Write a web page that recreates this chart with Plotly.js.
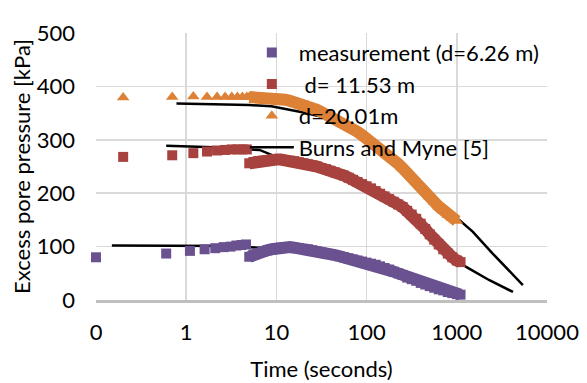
<!DOCTYPE html>
<html>
<head>
<meta charset="utf-8">
<script src="https://cdn.plot.ly/plotly-3.0.1.min.js"></script>
<style>html,body{margin:0;padding:0;background:#fff;}#chart{width:587px;height:383px;}</style>
</head>
<body>
<div id="chart"></div>
<script>
// ---- data (time in seconds, excess pore pressure in kPa) ----
const purpleEarlyT = [0.1, 0.6, 1.1, 1.6, 2.1, 2.6, 3.1, 3.6, 4.1, 4.6];
const purpleEarlyV = [80, 87, 92, 95, 97, 99, 100, 102, 103, 104];
const redEarlyT = [0.2, 0.7, 1.2, 1.7, 2.2, 2.7, 3.2, 3.7, 4.2, 4.7];
const redEarlyV = [268, 271, 275, 278, 280, 281, 282, 282, 282, 282];
const orangeEarlyT = [0.2, 0.7, 1.2, 1.7, 2.2, 2.7, 3.2, 3.7, 4.2, 4.7];
const orangeEarlyV = [379, 380, 381, 380, 380, 380, 380, 380, 380, 380];

const laterT = [5, 5.6, 6.3, 7.1, 7.9, 8.9, 10, 11.2, 12.6, 14.1, 15.8, 17.8, 20, 22.4, 25.1, 28.2,
  31.6, 35.5, 39.8, 44.7, 50.1, 56.2, 63.1, 70.8, 79.4, 89.1, 100, 112, 126, 141, 158, 178,
  200, 224, 251, 282, 316, 355, 398, 447, 501, 562, 631, 708, 794, 891, 1000, 1100];
const purpleLaterV = [81, 85, 88, 91, 93, 95, 97, 98, 99, 99, 98, 97, 96, 95, 93, 91,
  89, 87, 86, 84, 82, 80, 78, 76, 74, 72, 70, 68, 66, 63, 60, 57,
  53, 50, 47, 42, 39, 36, 32, 29, 26, 23, 20, 18, 15, 13, 11, 10];
const redLaterV = [256, 258, 260, 261, 262, 263, 263, 263, 262, 261, 260, 258, 256, 254, 252, 250,
  247, 245, 242, 239, 236, 233, 229, 225, 221, 217, 213, 209, 204, 199, 194, 189,
  184, 179, 174, 167, 160, 152, 143, 133, 123, 113, 104, 95, 87, 80, 74, 71];
const orangeLaterV = [380, 380, 379, 379, 378, 378, 377, 376, 375, 373, 371, 369, 367, 364, 360, 356,
  352, 348, 344, 340, 336, 331, 326, 321, 315, 309, 303, 297, 290, 283, 276, 269,
  262, 255, 247, 239, 230, 221, 212, 203, 193, 184, 175, 167, 159, 153, 148, null];

const burns1T = [0.15, 1, 3, 5, 10, 20, 50, 100, 200, 500, 1000];
const burns1V = [102, 102, 101, 99, 96, 93, 80, 68, 51, 24, 11];
const burns2T = [0.6, 1, 2, 5, 6.5, 10, 20, 50, 100, 200, 500, 1000, 1270, 2300, 4200];
const burns2V = [289, 288, 286, 282, 281, 268, 256, 236, 212, 183, 122, 75, 62, 37, 15];
const burns3T = [0.78, 2, 5, 8.8, 15, 20, 30, 42, 100, 300, 1000, 1500, 2500, 4000, 5400];
const burns3V = [368, 367, 365, 363, 356, 351, 344, 337, 300, 230, 152, 128, 87, 52, 28];

const xTickVals = [0.1, 1, 10, 100, 1000, 10000];
const xTickText = ['0', '1', '10', '100', '1000', '10000'];
const seriesNames = ['measurement (d=6.26 m)', '\u00a0d= 11.53 m', 'd=20.01m', 'Burns and Myne [5]'];

const FONT = 'Lato, "Open Sans", sans-serif';
const purple = '#6a5190', red = '#a8423f', orange = '#dc8136';

function burns(x, y, show) {
  return {x: x, y: y, type: 'scatter', mode: 'lines', name: seriesNames[3],
    legendgroup: 'burns', showlegend: show, legendrank: 4, cliponaxis: false,
    line: {color: '#000000', width: 2.5}};
}
function band(y, color) {
  return {x: laterT, y: y, type: 'scatter', mode: 'lines', showlegend: false, hoverinfo: 'skip',
    connectgaps: false, line: {color: color, width: 12}};
}
function meas(t, v, name, rank, symbol, size, color) {
  return {x: t, y: v, type: 'scatter', mode: 'markers', name: name, legendrank: rank, cliponaxis: false,
    marker: {symbol: symbol, size: size, color: color}};
}

const traces = [
  burns(burns1T, burns1V, true),
  burns(burns2T, burns2V, false),
  burns(burns3T, burns3V, false),
  band(purpleLaterV, purple),
  band(redLaterV, red),
  band(orangeLaterV, orange),
  meas(purpleEarlyT.concat(laterT), purpleEarlyV.concat(purpleLaterV), seriesNames[0], 1, 'square', 10, purple),
  meas(redEarlyT.concat(laterT), redEarlyV.concat(redLaterV), seriesNames[1], 2, 'square', 10, red),
  meas(orangeEarlyT.concat(laterT), orangeEarlyV.concat(orangeLaterV), seriesNames[2], 3, 'triangle-up', 11, orange)
];

const layout = {
  width: 587, height: 383,
  margin: {l: 96, r: 40, t: 33, b: 83},
  paper_bgcolor: '#ffffff', plot_bgcolor: '#ffffff',
  font: {family: FONT, size: 22, color: '#000000'},
  showlegend: true,
  legend: {x: 0.33, y: 1.005, xanchor: 'left', yanchor: 'top', bgcolor: 'rgba(0,0,0,0)',
    font: {family: FONT, size: 22, color: '#000000'}, borderwidth: 0, tracegroupgap: 0, itemwidth: 44},
  xaxis: {type: 'log', range: [-1, 4], tickvals: xTickVals, ticktext: xTickText,
    showgrid: true, gridcolor: '#d9d9d9', gridwidth: 1.5, zeroline: false,
    showline: true, linecolor: '#bfbfbf', linewidth: 2.5, ticks: '', ticklabelstandoff: 11,
    tickfont: {family: FONT, size: 22, color: '#000000'},
    title: {text: 'Time (seconds)', font: {family: FONT, size: 22, color: '#000000'}, standoff: 18},
    automargin: false},
  yaxis: {range: [0, 500], dtick: 100, tick0: 0, showgrid: true, gridcolor: '#d9d9d9', gridwidth: 1.5,
    zeroline: false, showline: false, ticks: '', ticklabelstandoff: 20,
    tickfont: {family: FONT, size: 22, color: '#000000'},
    title: {text: 'Excess pore pressure [kPa]', font: {family: FONT, size: 22, color: '#000000'}, standoff: 0},
    automargin: false},
  shapes: [{type: 'line', xref: 'x', yref: 'paper', x0: 0, x1: 0, y0: 0, y1: 1, layer: 'below',
    line: {color: '#bfbfbf', width: 2}}]
};

Plotly.newPlot('chart', traces, layout, {displayModeBar: false, staticPlot: true});
</script>
</body>
</html>
